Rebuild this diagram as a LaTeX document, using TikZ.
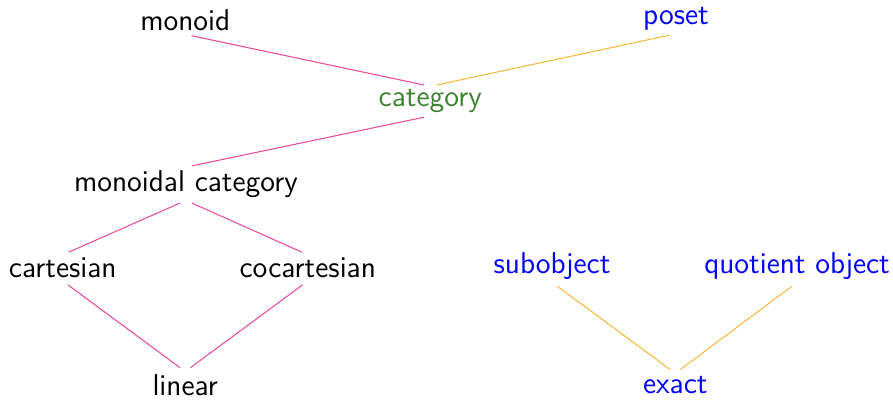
\documentclass[tikz,border=0pt]{standalone}
\usepackage{tikz}
\definecolor{mypink}{RGB}{232,72,155}
\definecolor{myorange}{RGB}{250,182,60}
\definecolor{mygreen}{RGB}{60,130,50}
\tikzstyle{line} = [draw, line width=0.4pt, shorten <=2.5pt, shorten >=2.5pt]

\begin{document}
\begin{tikzpicture}[
obj/.style={
  font={\sffamily\fontsize{11.6}{14}\selectfont},
  inner sep=1pt},
blueo/.style={obj,text=blue},
greeno/.style={obj,text=mygreen},
]
\useasboundingbox (0,0) rectangle (12.1,5.42);
\node[obj] (mon) at (2.51,5.14) {monoid};
\node[blueo] (pos) at (9.16,5.16) {poset};
\node[greeno] (cat) at (5.83,4.05) {category};
\node[obj] (moncat) at (2.52,2.93) {monoidal category};
\node[obj] (cart) at (0.85,1.79) {cartesian};
\node[obj] (cocart) at (4.17,1.79) {cocartesian};
\node[blueo] (sub) at (7.48,1.82) {subobject};
\node[blueo] (quot) at (10.80,1.82) {quotient object};
\node[obj] (lin) at (2.51,0.2) {linear};
\node[blueo] (ex) at (9.15,0.2) {exact};

\path [line, mypink] (mon.south) -- (cat.north);
\path [line, myorange] (pos.south) -- (cat.north);
\path [line, mypink] (cat.south) -- (moncat.north);
\path [line, mypink] (moncat.south) -- (cart.north);
\path [line, mypink] (moncat.south) -- (cocart.north);
\path [line, mypink] (cart.south) -- (lin.north);
\path [line, mypink] (cocart.south) -- (lin.north);
\path [line, myorange] (sub.south) -- (ex.north);
\path [line, myorange] (quot.south) -- (ex.north);
\end{tikzpicture}
\end{document}
